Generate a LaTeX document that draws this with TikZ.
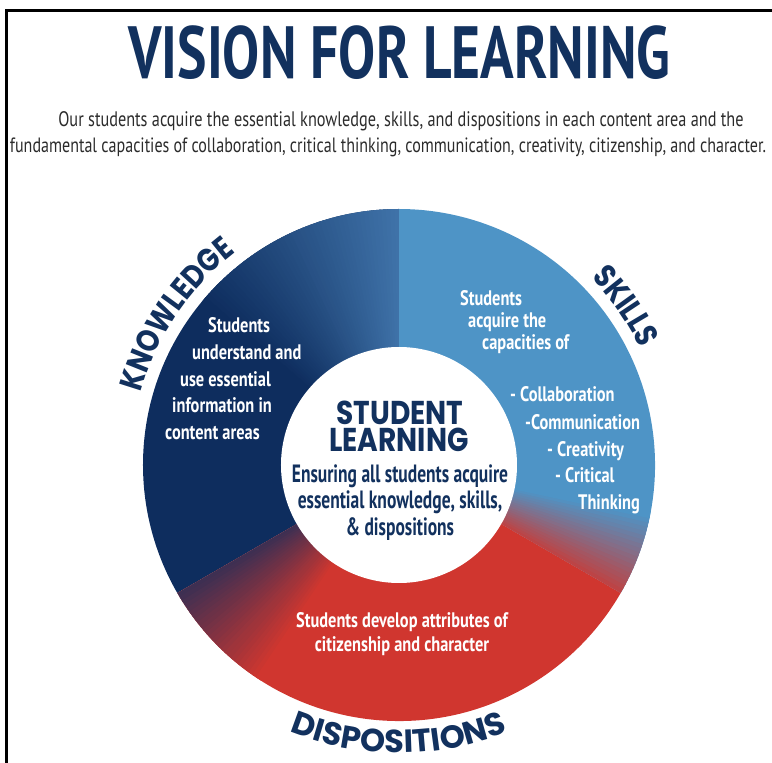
\documentclass[tikz,border=0pt]{standalone}
\usepackage{fontspec}
\usepackage{tikz}
\usetikzlibrary{decorations.text}

\newfontfamily\titlefont[FakeStretch=0.75]{PT Sans}
\newfontfamily\condfont[FakeStretch=0.78]{PT Sans}
\newfontfamily\centerfont[FakeStretch=0.70]{PT Sans}
\newfontfamily\subfont[FakeStretch=0.775]{PT Sans}
\newfontfamily\geofont[FakeStretch=0.85]{Poppins}
\newfontfamily\widegeofont[FakeStretch=1.0]{Poppins}

\definecolor{navyblue}{HTML}{12315E}
\definecolor{knowblue}{HTML}{0E2D5E}
\definecolor{midblue}{HTML}{3F72A8}
\definecolor{skillblue}{HTML}{4E94C6}
\definecolor{disred}{HTML}{D0362F}
\definecolor{subgray}{HTML}{2B2B2B}

\def\rin{118}
\def\rout{256}

\begin{document}
\begin{tikzpicture}[x=1pt, y=1pt,
    whitetext/.style={text=white, inner sep=0pt, anchor=base west,
        font=\condfont\bfseries\fontsize{21}{21}\selectfont},
    centertext/.style={text=navyblue, inner sep=0pt, anchor=base,
        font=\centerfont\bfseries\fontsize{25}{25}\selectfont},
    bigword/.style={text=navyblue, inner sep=0pt, anchor=base,
        font=\geofont\bfseries\fontsize{33}{33}\selectfont},
    subtext/.style={text=subgray, inner sep=0pt, anchor=base,
        font=\subfont\fontsize{21}{21}\selectfont},
    arclabel/.style={decorate, decoration={text along path, text align=center}}]
    \useasboundingbox (-399,-298) rectangle (373,465);
    \draw[line width=2.5pt] (-392.3,-298) -- (-392.3,454.7) -- (373,454.7);

    % heading
    \node[text=navyblue, inner sep=0pt, anchor=base,
        font=\titlefont\bfseries\fontsize{74}{74}\selectfont] (title) at (0.5,386) {VISION FOR LEARNING};
    \node[subtext] (sub1) at (2,338) {Our students acquire the essential knowledge, skills, and dispositions in each content area and the};
    \node[subtext, font=\subfont\fontsize{20.7}{21}\selectfont] (sub2) at (-11,312) {fundamental capacities of collaboration, critical thinking, communication, creativity, citizenship, and character.};

    % the three sectors
    \fill[skillblue] (0,0) -- (-30:\rout) arc[start angle=-30, end angle=90, radius=\rout] -- cycle;
    \fill[knowblue] (0,0) -- (90:\rout) arc[start angle=90, end angle=210, radius=\rout] -- cycle;
    \fill[disred] (0,0) -- (210:\rout) arc[start angle=210, end angle=330, radius=\rout] -- cycle;

    % soft edges
    \foreach \a in {90,...,139}{
        \pgfmathtruncatemacro\p{100*(\a-90)/49}
        \fill[knowblue!\p!midblue] (0,0) -- (\a:\rout) arc[start angle=\a, delta angle=1.5, radius=\rout] -- cycle;
    }
    \foreach \a in {210,...,236}{
        \pgfmathtruncatemacro\p{25+75*(\a-210)/26}
        \fill[disred!\p!knowblue] (0,0) -- (\a:\rout) arc[start angle=\a, delta angle=1.5, radius=\rout] -- cycle;
    }
    \foreach \a in {-30,...,-12}{
        \pgfmathtruncatemacro\p{85*(-12-\a)/18}
        \fill[disred!\p!skillblue] (0,0) -- (\a:\rout) arc[start angle=\a, delta angle=1.5, radius=\rout] -- cycle;
    }

    \fill[white] (0,0) circle[radius=\rin];

    % words round the ring
    \path[arclabel, decoration={text={|\geofont\bfseries\fontsize{32}{32}\selectfont\color{navyblue}|KNOWLEDGE}}]
        (187:268) arc[start angle=187, end angle=105, radius=268];
    \path[arclabel, decoration={text={|\geofont\bfseries\fontsize{32}{32}\selectfont\color{navyblue}|SKILLS}}]
        (60:268) arc[start angle=60, end angle=10, radius=268];
    \path[arclabel, decoration={text={|\widegeofont\bfseries\fontsize{32}{32}\selectfont\color{navyblue}|DISPOSITIONS}}]
        (225:288) arc[start angle=225, end angle=315, radius=288];

    % knowledge
    \node[whitetext] (k1) at (-191,132) {Students};
    \node[whitetext] (k2) at (-207,105) {understand and};
    \node[whitetext] (k3) at (-219,78) {use essential};
    \node[whitetext] (k4) at (-227,52) {information in};
    \node[whitetext] (k5) at (-234,25) {content areas};

    % skills
    \node[whitetext] (s1) at (61,159) {Students};
    \node[whitetext] (s2) at (69,137) {acquire the};
    \node[whitetext] (s3) at (83,115) {capacities of};
    \node[whitetext] (s4) at (111,63) {- Collaboration};
    \node[whitetext] (s5) at (126,35) {-Communication};
    \node[whitetext] (s6) at (148,8) {- Creativity};
    \node[whitetext] (s7) at (156,-18) {- Critical};
    \node[whitetext] (s8) at (179,-45) {Thinking};

    % dispositions
    \node[whitetext, anchor=base] (d1) at (3,-163) {Students develop attributes of};
    \node[whitetext, anchor=base] (d2) at (3,-186) {citizenship and character};

    % centre
    \node[bigword] (st) at (1,40) {STUDENT};
    \node[bigword] (le) at (0,13) {LEARNING};
    \node[centertext] (c1) at (1,-18) {Ensuring all students acquire};
    \node[centertext] (c2) at (1,-44) {essential knowledge, skills,};
    \node[centertext] (c3) at (1,-71) {\& dispositions};
\end{tikzpicture}
\end{document}
